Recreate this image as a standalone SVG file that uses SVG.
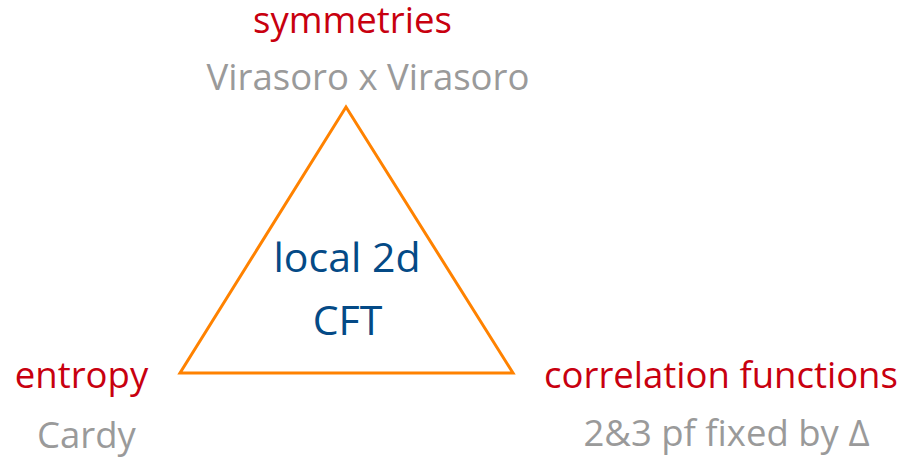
<svg xmlns="http://www.w3.org/2000/svg" width="902" height="459" viewBox="0 0 902 459">
<style>
text{font-family:"Open Sans","Noto Sans",sans-serif;font-size:36.5px;text-anchor:middle}
.t{fill:#C8000F}
.s{fill:#9A9A9A}
.c{fill:#044A86;font-size:41px}
</style>
<rect width="902" height="459" fill="#fff"/>
<g id="connectors">
<polygon points="346,107 180,373 513,373" fill="none" stroke="#FF8200" stroke-width="3" stroke-linejoin="miter"/>
</g>
<g id="center"><text class="c" x="347" y="272">local 2d</text><text class="c" x="347.5" y="335">CFT</text></g>
<g id="symmetries"><text class="t" x="352.5" y="33">symmetries</text><text class="s" x="368" y="90">Virasoro x Virasoro</text></g>
<g id="entropy"><text class="t" x="81.5" y="388">entropy</text><text class="s" x="86.5" y="448">Cardy</text></g>
<g id="correlation"><text class="t" x="721" y="388">correlation functions</text><text class="s" x="726.5" y="446">2&amp;3 pf fixed by Δ</text></g>
</svg>
